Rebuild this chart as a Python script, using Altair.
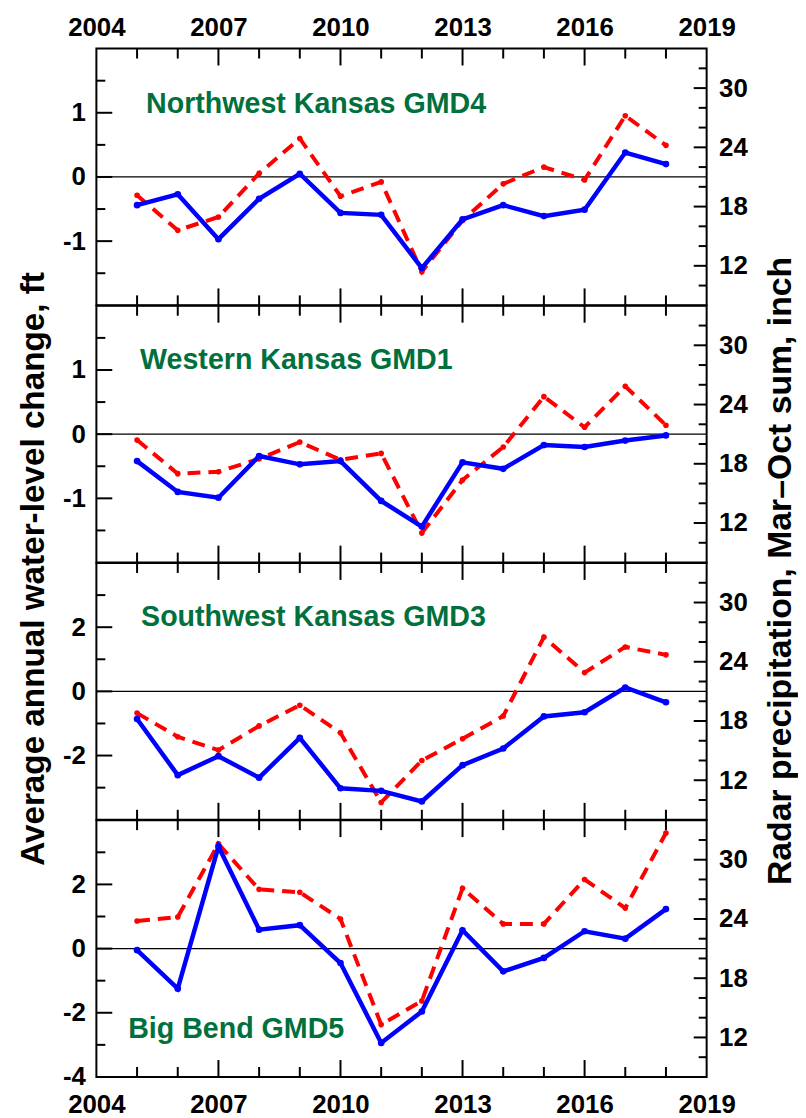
import altair as alt
import pandas as pd

# ---------------- data ----------------
YEARS = [2005, 2006, 2007, 2008, 2009, 2010, 2011, 2012, 2013, 2014, 2015, 2016, 2017, 2018]

PANEL_NAMES = ["Northwest Kansas GMD4", "Western Kansas GMD1",
               "Southwest Kansas GMD3", "Big Bend GMD5"]

# average annual water-level change, ft (blue, left axis)
WL_GMD4 = [-0.44, -0.27, -0.97, -0.34, 0.05, -0.56, -0.59, -1.42, -0.66, -0.44, -0.61, -0.51, 0.38, 0.20]
WL_GMD1 = [-0.42, -0.90, -0.99, -0.34, -0.47, -0.42, -1.04, -1.44, -0.44, -0.54, -0.17, -0.20, -0.10, -0.02]
WL_GMD3 = [-0.86, -2.61, -2.02, -2.69, -1.45, -3.02, -3.10, -3.43, -2.30, -1.78, -0.78, -0.65, 0.12, -0.34]
WL_GMD5 = [-0.05, -1.25, 3.18, 0.59, 0.73, -0.45, -2.94, -1.96, 0.57, -0.71, -0.29, 0.54, 0.31, 1.23]

# radar precipitation, Mar-Oct sum, inch (red dashed, right axis)
PR_GMD4 = [19.15, 15.6, 16.95, 21.36, 24.9, 19.05, 20.5, 11.4, 16.6, 20.3, 22.0, 20.7, 27.2, 24.2]
PR_GMD1 = [20.4, 17.0, 17.2, 18.5, 20.2, 18.4, 19.05, 11.0, 16.35, 19.7, 24.8, 21.7, 25.85, 21.9]
PR_GMD3 = [18.8, 16.4, 15.05, 17.5, 19.6, 16.8, 9.75, 14.0, 16.2, 18.5, 26.5, 22.9, 25.5, 24.7]
PR_GMD5 = [23.8, 24.2, 31.6, 27.0, 26.7, 24.0, 13.3, 15.7, 27.1, 23.5, 23.5, 28.0, 25.1, 32.7]

WL = [WL_GMD4, WL_GMD1, WL_GMD3, WL_GMD5]
PR = [PR_GMD4, PR_GMD1, PR_GMD3, PR_GMD5]

# axes / tick labels
X_DOMAIN = [2004, 2019]
X_LABELS = [2004, 2007, 2010, 2013, 2016, 2019]
X_MINOR = [2005, 2006, 2008, 2009, 2011, 2012, 2014, 2015, 2017, 2018]
X_MAJOR = [2007, 2010, 2013, 2016]

LEFT_DOMAINS = [[-2, 2], [-2, 2], [-4, 4], [-4, 4]]
LEFT_LABELS = [[-1, 0, 1], [-1, 0, 1], [-2, 0, 2], [-4, -2, 0, 2]]
LEFT_MINOR = [[-1.5, -0.5, 0.5, 1.5], [-1.5, -0.5, 0.5, 1.5], [-3, -1, 1, 3], [-3, -1, 1, 3]]
LEFT_MAJOR = [[-1, 0, 1], [-1, 0, 1], [-2, 0, 2], [-2, 0, 2]]

RIGHT_DOMAIN = [8, 34]
RIGHT_LABELS = [12, 18, 24, 30]
RIGHT_MINOR = [10, 14, 16, 20, 22, 26, 28, 32]

LEFT_TITLE = "Average annual water-level change, ft"
RIGHT_TITLE = "Radar precipitation, Mar\u2013Oct sum, inch"

# ---------------- styling ----------------
FONT = "Liberation Sans"
W = 614.5
H = 258.5
BLUE = "#0000ff"
RED = "#ff0000"
GREEN = "#00703c"
LABEL_POS = [(50, 56), (44, 55), (45, 54), (32, 210)]
TICK_FS = 26


def make_panel(i):
    df = pd.DataFrame({"year": YEARS, "wl": WL[i], "pr": PR[i]})

    xaxis_common = dict(values=X_LABELS, ticks=False, domain=False, grid=False,
                        labelFlush=False, labelOverlap=False, format="d",
                        labelFont=FONT, labelFontSize=TICK_FS, labelFontWeight="bold",
                        labelColor="black")
    if i == 0:
        xaxis = alt.Axis(orient="top", labelPadding=8, **xaxis_common)
    elif i == 3:
        xaxis = alt.Axis(orient="bottom", labelPadding=15, **xaxis_common)
    else:
        xaxis = None
    X = alt.X("year:Q", scale=alt.Scale(domain=X_DOMAIN, nice=False, zero=False),
              axis=xaxis, title=None)

    lax = dict(orient="left", values=LEFT_LABELS[i], ticks=False, domain=False,
               grid=False, labelPadding=11, labelExpr="toString(datum.value)",
               labelFont=FONT, labelFontSize=TICK_FS, labelFontWeight="bold",
               labelColor="black", labelOverlap=False, labelFlush=False)
    rax = dict(orient="right", values=RIGHT_LABELS, ticks=False, domain=False,
               grid=False, labelPadding=12,
               labelFont=FONT, labelFontSize=TICK_FS, labelFontWeight="bold",
               labelColor="black", labelOverlap=False, labelFlush=False)
    if i == 1:
        lax.update(title=LEFT_TITLE, titleX=-63, titleY=H + 6, titleAngle=270,
                   titleAlign="center", titleBaseline="middle",
                   titleFont=FONT, titleFontSize=33.5, titleFontWeight="bold",
                   titleColor="black")
        rax.update(title=RIGHT_TITLE, titleX=74, titleY=H + 8, titleAngle=270,
                   titleAlign="center", titleBaseline="middle",
                   titleFont=FONT, titleFontSize=34, titleFontWeight="bold",
                   titleColor="black")
        YL = alt.Y("wl:Q", scale=alt.Scale(domain=LEFT_DOMAINS[i], nice=False, zero=False),
                   axis=alt.Axis(**lax))
        YR = alt.Y("pr:Q", scale=alt.Scale(domain=RIGHT_DOMAIN, nice=False, zero=False),
                   axis=alt.Axis(**rax))
    else:
        YL = alt.Y("wl:Q", scale=alt.Scale(domain=LEFT_DOMAINS[i], nice=False, zero=False),
                   axis=alt.Axis(**lax), title=None)
        YR = alt.Y("pr:Q", scale=alt.Scale(domain=RIGHT_DOMAIN, nice=False, zero=False),
                   axis=alt.Axis(**rax), title=None)

    Y0 = alt.Y("wl:Q", scale=alt.Scale(domain=LEFT_DOMAINS[i], nice=False, zero=False),
               axis=None)

    # zero line (drawn first, underneath)
    zero = alt.Chart(pd.DataFrame({"wl": [0]})).mark_rule(
        color="black", strokeWidth=1.3).encode(y=Y0)

    # --- precipitation (right axis) ---
    red_line = alt.Chart(df).mark_line(color=RED, strokeWidth=4,
                                       strokeDash=[13, 8]).encode(x=X, y=YR)
    red_pts = alt.Chart(df).mark_circle(color=RED, size=32, opacity=1).encode(x=X, y=YR)
    r_minor = alt.Chart(pd.DataFrame({"pr": RIGHT_MINOR})).mark_rule(
        color="black", strokeWidth=2).encode(y=YR, x=alt.value(W), x2=alt.value(W - 8))
    r_major = alt.Chart(pd.DataFrame({"pr": RIGHT_LABELS})).mark_rule(
        color="black", strokeWidth=2).encode(y=YR, x=alt.value(W), x2=alt.value(W - 13))
    right = alt.layer(red_line, red_pts, r_minor, r_major)

    # --- water level (left axis) ---
    blue_line = alt.Chart(df).mark_line(color=BLUE, strokeWidth=4.5).encode(x=X, y=YL)
    blue_pts = alt.Chart(df).mark_circle(color=BLUE, size=45, opacity=1).encode(x=X, y=YL)
    l_minor = alt.Chart(pd.DataFrame({"wl": LEFT_MINOR[i]})).mark_rule(
        color="black", strokeWidth=2).encode(y=YL, x=alt.value(0), x2=alt.value(9))
    l_major = alt.Chart(pd.DataFrame({"wl": LEFT_MAJOR[i]})).mark_rule(
        color="black", strokeWidth=2).encode(y=YL, x=alt.value(0), x2=alt.value(16))
    minor_df = pd.DataFrame({"year": X_MINOR})
    major_df = pd.DataFrame({"year": X_MAJOR})
    t_minor = alt.Chart(minor_df).mark_rule(color="black", strokeWidth=2).encode(
        x=X, y=alt.value(0), y2=alt.value(10))
    t_major = alt.Chart(major_df).mark_rule(color="black", strokeWidth=2).encode(
        x=X, y=alt.value(0), y2=alt.value(17))
    b_minor = alt.Chart(minor_df).mark_rule(color="black", strokeWidth=2).encode(
        x=X, y=alt.value(H), y2=alt.value(H - 10))
    b_major = alt.Chart(major_df).mark_rule(color="black", strokeWidth=2).encode(
        x=X, y=alt.value(H), y2=alt.value(H - 17))
    lx, ly = LABEL_POS[i]
    label = alt.Chart(pd.DataFrame({"name": [PANEL_NAMES[i]]})).mark_text(
        align="left", baseline="middle", font=FONT, fontSize=28.8, fontWeight="bold",
        color=GREEN).encode(text="name:N", x=alt.value(lx), y=alt.value(ly))
    left = alt.layer(blue_line, blue_pts, l_minor, l_major,
                     t_minor, t_major, b_minor, b_major, label)

    return alt.layer(zero, right, left).resolve_scale(y="independent").properties(
        width=W, height=H)


panels = [make_panel(i) for i in range(4)]

chart = alt.vconcat(*panels, spacing=0, bounds="flush").properties(
    padding={"left": 7, "top": 2, "right": 0, "bottom": 0},
    background="white",
).configure_view(stroke="black", strokeWidth=2)

chart.save("out.html", embed_options={"renderer": "svg", "actions": False})
